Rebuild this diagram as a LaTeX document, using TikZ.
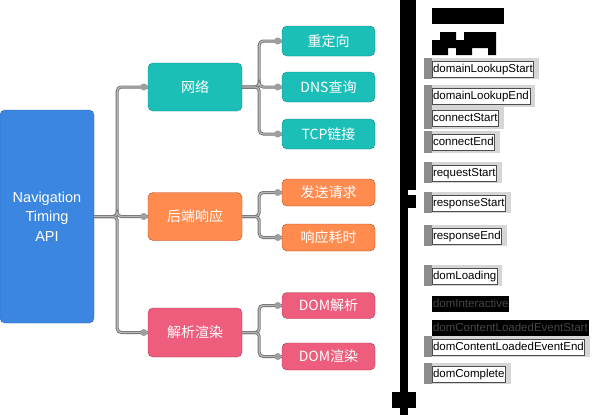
\documentclass[tikz,border=0pt]{standalone}
\usepackage{fontspec}
\setmainfont{Liberation Sans}
\newfontfamily\cjk{Noto Sans CJK SC}
\usepackage{tikz}
\usetikzlibrary{positioning,backgrounds}

\definecolor{navfill}{HTML}{3B86E1}
\definecolor{navline}{HTML}{2A63B5}
\definecolor{netfill}{HTML}{1CBEB8}
\definecolor{netline}{HTML}{0B8C87}
\definecolor{respfill}{HTML}{FF8B4F}
\definecolor{respline}{HTML}{B5471A}
\definecolor{parsefill}{HTML}{EE5D7C}
\definecolor{parseline}{HTML}{A93250}

\begin{document}
\begin{tikzpicture}[x=1pt, y=-1pt,
        box/.style = {draw, thin, rounded corners=5pt, text=white, minimum width=94pt, inner sep=0pt, font=\cjk\fontsize{14}{16}\selectfont},
        net/.style = {box, fill=netfill, draw=netline},
        resp/.style = {box, fill=respfill, draw=respline},
        parse/.style = {box, fill=parsefill, draw=parseline},
        link/.style = {draw=black!55, double=black!28, double distance=1.2pt, line width=0.9pt, rounded corners=4pt},
        dot/.style = {fill=black!38},
        stamp/.style = {draw=black!70, fill=white, thin, anchor=west, inner xsep=0.8pt, inner ysep=2.5pt, text height=8.5pt, text depth=2.5pt, font=\fontsize{11.5}{13}\selectfont},
        hidden/.style = {stamp, draw=none, fill=black, text=black!72},
        backing/.style = {fill=black!16},
        strip/.style = {fill=black!45}
        ]
        \useasboundingbox (0,0) rectangle (600,415);

        \node[box, fill=navfill, draw=navline, minimum height=213pt, align=center, font=\fontsize{14.5}{19.5}\selectfont] (nav) at (47,216.5) {Navigation\\Timing\\API};

        \node[net, minimum height=48pt] (net) at (195,87) {网络};
        \node[resp, minimum height=48pt] (resp) at (195,216.5) {后端响应};
        \node[parse, minimum height=49pt] (parse) at (195,332.5) {解析渲染};

        \node[net, minimum width=93pt, minimum height=30pt] (redir) at (328.5,41) {重定向};
        \node[net, minimum width=93pt, minimum height=30pt] (dns) at (328.5,87) {DNS查询};
        \node[net, minimum width=93pt, minimum height=30pt] (tcp) at (328.5,134) {TCP链接};
        \node[resp, minimum width=93pt, minimum height=27pt] (send) at (328.5,192.5) {发送请求};
        \node[resp, minimum width=93pt, minimum height=27pt] (wait) at (328.5,237.5) {响应耗时};
        \node[parse, minimum width=93pt, minimum height=26pt] (domp) at (328.5,305.5) {DOM解析};
        \node[parse, minimum width=93pt, minimum height=27pt] (domr) at (328.5,356.5) {DOM渲染};

        \foreach \p/\c/\d in {nav/net/23, nav/resp/23, nav/parse/23,
                net/redir/17, net/dns/17, net/tcp/17,
                resp/send/17, resp/wait/17, parse/domp/17, parse/domr/17} {
            \draw[link] (\p.east) -- ++(\d,0) |- (\c.west);
            \fill[dot] ([xshift=-4pt]\c.west) circle (3.5pt);
        }

        % timeline
        \fill (400,0) rectangle (416,190);
        \fill (400,190) rectangle (408,415);
        \fill (400,195) rectangle (416,208);
        \fill (392,392) rectangle (416,408);
        \fill (432,8) rectangle (504,24);
        \fill (440,32) rectangle (456,40) (464,32) rectangle (496,40) (432,40) rectangle (496,48)
              (432,48) rectangle (448,55) (456,48) rectangle (472,55) (488,48) rectangle (496,55);

        \node[stamp] (dls) at (432,69) {domainLookupStart};
        \node[stamp] (dle) at (432,96.5) {domainLookupEnd};
        \node[stamp] (cs) at (432,118.5) {connectStart};
        \node[stamp] (ce) at (432,142.5) {connectEnd};
        \node[stamp] (rqs) at (432,173) {requestStart};
        \node[stamp] (rss) at (432,203) {responseStart};
        \node[stamp] (rse) at (432,236) {responseEnd};
        \node[stamp] (dl) at (432,276) {domLoading};
        \node[hidden] (di) at (432,304) {domInteractive};
        \node[hidden] (dcs) at (432,328) {domContentLoadedEventStart};
        \node[stamp] (dce) at (432,347) {domContentLoadedEventEnd};
        \node[stamp] (dc) at (432,374) {domComplete};

        \begin{scope}[on background layer]
            \foreach \n in {dls,dle,cs,ce,rqs,rss,rse,dl,dce,dc} {
                \fill[backing] ([xshift=-8pt,yshift=3pt]\n.north west) rectangle ([xshift=5pt,yshift=-2pt]\n.south east);
                \fill[strip] ([xshift=-8pt,yshift=3pt]\n.north west) rectangle ([yshift=-2pt]\n.south west);
            }
        \end{scope}
    \end{tikzpicture}
\end{document}
